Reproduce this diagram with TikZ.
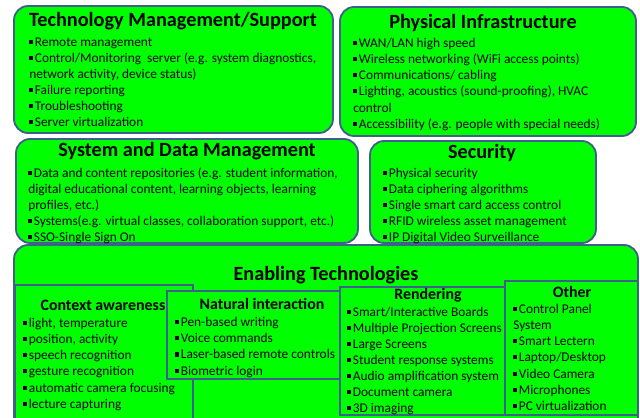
\documentclass[tikz,border=0pt]{standalone}
\usepackage{fontspec}
\setmainfont{Carlito}
\definecolor{panelgreen}{HTML}{00FF00}
\definecolor{panelline}{HTML}{3F5F8C}
%% small square bullet in front of every list entry
\newcommand{\sq}{\rule[0.18em]{0.3em}{0.3em}\kern0.12em}
\tikzset{
  panel/.style={draw=panelline, line width=1.3pt, fill=panelgreen, rounded corners=10pt},
  subpanel/.style={draw=panelline, line width=1.3pt, fill=panelgreen},
  head/.style={font=\bfseries\fontsize{14.4}{16}\selectfont, inner sep=0pt},
  subhead/.style={font=\bfseries\fontsize{11.3}{13}\selectfont, inner sep=0pt},
  entry/.style={anchor=base west, inner sep=0pt, font=\fontsize{9.5}{11}\selectfont}
}
\begin{document}
\begin{tikzpicture}[x=0.025cm,y=-0.025cm]
    \useasboundingbox (0,0) rectangle (640,417);
    %% upper row
    \draw[panel] (14,6) rectangle (333,133);
    \node[head] (tms) at (173,21) {Technology Management/Support};
    \foreach \t [count=\i] in {{\sq Remote management},
        {\sq Control/Monitoring\ \ server (e.g. system diagnostics,},
        {network\ activity, device status)},
        {\sq Failure reporting}, {\sq Troubleshooting}, {\sq Server virtualization}}
        \node[entry] (tms\i) at (29,{30+16*\i}) {\t};
    \draw[panel] (340,7) rectangle (636,136);
    \node[head] (phy) at (483,23) {Physical Infrastructure};
    \foreach \t [count=\i] in {{\sq WAN/LAN\ high speed},
        {\sq Wireless networking\ (WiFi\ access points)},
        {\sq Communications/ cabling},
        {\sq Lighting, acoustics (sound-proofing), HVAC},
        {control},
        {\sq Accessibility (e.g. people with special needs)}}
        \node[entry] (phy\i) at (353,{31+16.2*\i}) {\t};
    %% middle row
    \draw[panel] (16,139) rectangle (358,243);
    \node[head] (sdm) at (187,151) {System and Data Management};
    \foreach \t [count=\i] in {{\sq Data and content repositories (e.g. student information,},
        {digital educational content,\ learning objects, learning},
        {profiles,\ etc.)},
        {\sq Systems(e.g. virtual classes, collaboration support, etc.)},
        {\sq SSO-Single Sign On}}
        \node[entry] (sdm\i) at (28,{161+16*\i}) {\t};
    \draw[panel] (370,141) rectangle (596,243);
    \node[head] (sec) at (482,153) {Security};
    \foreach \t [count=\i] in {{\sq Physical security}, {\sq Data ciphering algorithms},
        {\sq Single smart card access control}, {\sq RFID wireless asset management},
        {\sq IP Digital Video Surveillance}}
        \node[entry] (sec\i) at (383,{161+16*\i}) {\t};
    %% bottom panel and its four groups
    \draw[panel] (14,245) rectangle (638,440);
    \node[head] (ena) at (326,275) {Enabling Technologies};
    \draw[subpanel] (15,285) rectangle (193,425);
    \node[subhead] (ctx) at (103,305) {Context awareness};
    \foreach \t [count=\i] in {{\sq light, temperature}, {\sq position, activity},
        {\sq speech recognition}, {\sq gesture recognition},
        {\sq automatic\ camera focusing}, {\sq lecture capturing}}
        \node[entry] (ctx\i) at (23,{311+16.2*\i}) {\t};
    \draw[subpanel] (167,291) rectangle (340,379);
    \node[subhead] (nat) at (262,304) {Natural interaction};
    \foreach \t [count=\i] in {{\sq Pen-based writing}, {\sq Voice commands},
        {\sq Laser-based remote\ controls}, {\sq Biometric\ login}}
        \node[entry] (nat\i) at (175,{310+16.3*\i}) {\t};
    \draw[subpanel] (340,287) rectangle (505,415);
    \node[subhead] (ren) at (428,295) {Rendering};
    \foreach \t [count=\i] in {{\sq Smart/Interactive\ Boards}, {\sq Multiple Projection\ Screens},
        {\sq Large Screens}, {\sq Student\ response systems},
        {\sq Audio\ amplification system}, {\sq Document\ camera}, {\sq 3D imaging}}
        \node[entry] (ren\i) at (347,{300+16.1*\i}) {\t};
    \draw[subpanel] (505,281) rectangle (638,415);
    \node[subhead] (oth) at (572,292) {Other};
    \foreach \t [count=\i] in {{\sq Control\ Panel}, {System}, {\sq Smart\ Lectern},
        {\sq Laptop/Desktop}, {\sq Video Camera}, {\sq Microphones}, {\sq PC virtualization}}
        \node[entry] (oth\i) at (513,{297+16.2*\i}) {\t};
\end{tikzpicture}
\end{document}
